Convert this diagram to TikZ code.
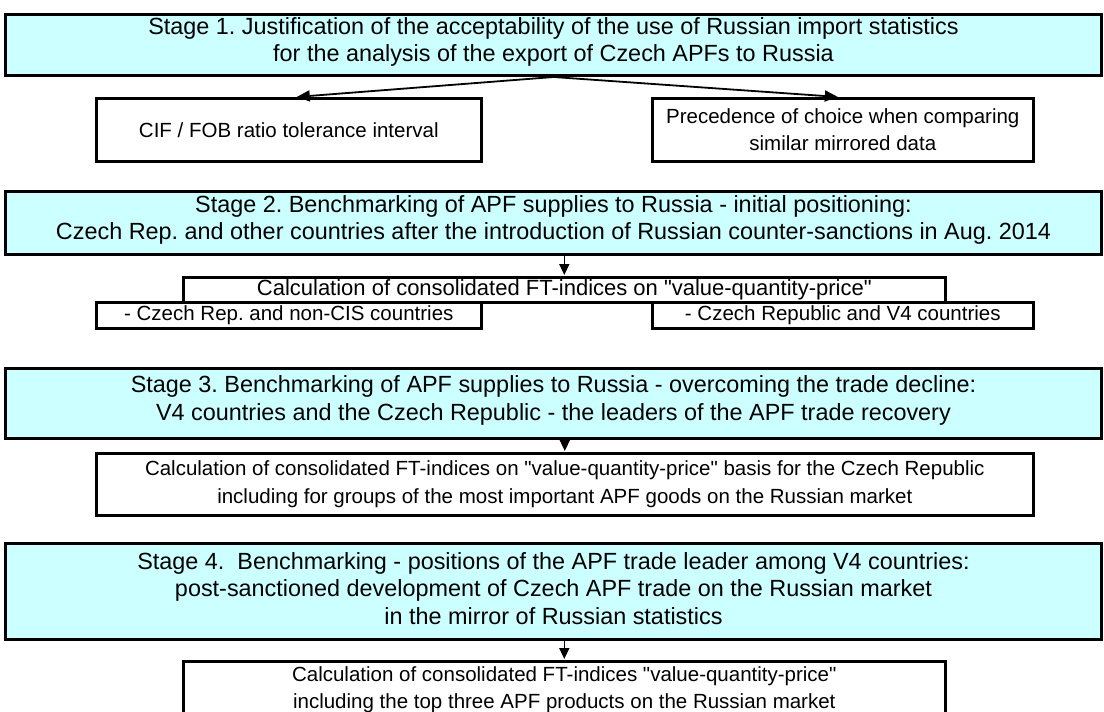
\documentclass[tikz,border=0pt]{standalone}
\usepackage{fontspec}
\setmainfont{Liberation Sans}[Ligatures=TeXOff]
\usetikzlibrary{arrows.meta}
\definecolor{stagefill}{HTML}{CCFFFF}
\frenchspacing
\begin{document}
\begin{tikzpicture}[x=1pt,y=-1pt,
  stagebox/.style={draw=black, line width=3pt, fill=stagefill, inner sep=0pt,
    anchor=north west},
  stagetext/.style={align=center, inner sep=0pt, yshift=3pt,
    font=\fontsize{23.4}{27.3}\selectfont},
  subbox/.style={draw=black, line width=2.6pt, fill=white, inner sep=0pt,
    align=center, anchor=north west, font=\fontsize{20.5}{27.5}\selectfont},
  bigflow/.style={line width=1.8pt, shorten >=1pt, -{Triangle[length=13pt,width=11pt]}},
  flow/.style={line width=1.6pt, shorten >=1pt, -{Triangle[length=11pt,width=10pt]}},
  ]
\useasboundingbox (0,0) rectangle (1104,712);
\clip (0,0) rectangle (1104,712);

% Stage 1 and its two checks
\node[stagebox, minimum width=1096pt, minimum height=61pt,
  label={[stagetext]center:{Stage 1. Justification of the acceptability of the use of Russian import statistics\\
   for the analysis of the export of Czech APFs to Russia}}] (s1) at (4,13) {};
\node[subbox, minimum width=385pt, minimum height=63pt] (cif) at (95,97)
  {CIF / FOB ratio tolerance interval};
\node[subbox, minimum width=381pt, minimum height=63pt] (prec) at (651,97)
  {Precedence of choice when comparing\\ similar mirrored data};
\draw[bigflow] (s1.south) -- ([xshift=7pt]cif.north);
\draw[bigflow] (s1.south) -- ([xshift=-4pt]prec.north);

% Stage 2
\node[stagebox, minimum width=1096pt, minimum height=63pt,
  label={[stagetext]center:{Stage 2. Benchmarking of APF supplies to Russia - initial positioning:\\
   Czech Rep. and other countries after the introduction of Russian counter-sanctions in Aug. 2014}}] (s2) at (4,190) {};
\node[subbox, minimum width=762pt, minimum height=25pt,
  font=\fontsize{22}{26}\selectfont] (calc2) at (182,276)
  {Calculation of consolidated FT-indices on "value-quantity-price"};
\node[subbox, minimum width=385pt, minimum height=26pt] (noncis) at (95,301)
  {- Czech Rep. and non-CIS countries};
\node[subbox, minimum width=381pt, minimum height=26pt] (v4) at (651,301)
  {- Czech Republic and V4 countries};
\draw[flow] (calc2.north |- s2.south) -- (calc2.north);

% Stage 3
\node[stagebox, minimum width=1096pt, minimum height=70pt,
  label={[stagetext]center:{Stage 3. Benchmarking of APF supplies to Russia - overcoming the trade decline:\\
   V4 countries and the Czech Republic - the leaders of the APF trade recovery}}] (s3) at (4,367) {};
\node[subbox, minimum width=937pt, minimum height=62pt] (calc3) at (95,452)
  {Calculation of consolidated FT-indices on "value-quantity-price" basis for the Czech Republic\\
   including for groups of the most important APF goods on the Russian market};
\draw[flow] (calc3.north |- s3.south) -- (calc3.north);

% Stage 4
\node[stagebox, minimum width=1096pt, minimum height=96pt,
  label={[stagetext]center:{Stage 4.\ \ Benchmarking - positions of the APF trade leader among V4 countries:\\
   post-sanctioned development of Czech APF trade on the Russian market\\
   in the mirror of Russian statistics}}] (s4) at (4,542) {};
\node[subbox, minimum width=762pt, minimum height=72pt, text depth=19pt] (box4) at (182,660)
  {Calculation of consolidated FT-indices "value-quantity-price"\\
   including the top three APF products on the Russian market};
\draw[flow] (box4.north |- s4.south) -- (box4.north);
\end{tikzpicture}
\end{document}
